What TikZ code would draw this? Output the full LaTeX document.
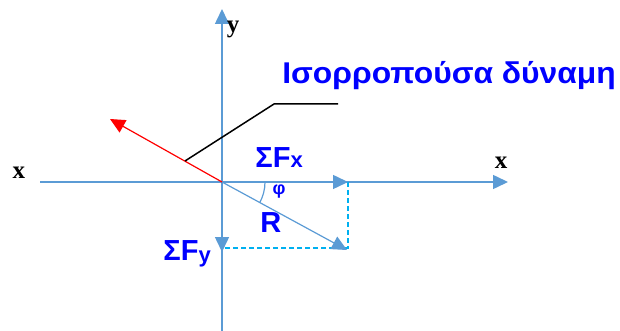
\documentclass[tikz,border=0pt]{standalone}
\usepackage{fontspec}
\usepackage{graphicx}
\setmainfont{Liberation Sans}
\newfontfamily\timesfont{Liberation Serif}
\usetikzlibrary{arrows.meta}
\definecolor{axisblue}{RGB}{91, 155, 213}
\definecolor{dashcyan}{RGB}{0, 176, 240}
\definecolor{labelblue}{RGB}{0, 0, 255}

\begin{document}
\begin{tikzpicture}[x=0.5pt, y=-0.5pt,
    axis/.style={line width=0.75pt, axisblue, -{Triangle[length=7.5pt, width=7pt]}},
    comp/.style={line width=0.75pt, axisblue, -{Triangle[length=7.5pt, width=7pt]}},
    proj/.style={line width=0.6pt, dashcyan, dashed, dash pattern=on 2.5pt off 1.5pt},
    forcelabel/.style={font=\bfseries\fontsize{14.5}{17}\selectfont, text=labelblue, inner sep=0pt},
    axislabel/.style={font=\timesfont\bfseries\fontsize{12.5}{14}\selectfont, inner sep=0pt}]
    \useasboundingbox (0,0) rectangle (620,331);
    % points
    \coordinate (o) at (222,182);
    \coordinate (xl) at (40,182);
    \coordinate (xr) at (508,182);
    \coordinate (yb) at (222,331);
    \coordinate (yt) at (222,9);
    \coordinate (fx) at (348,182);
    \coordinate (fy) at (222,252);
    \coordinate (r) at (347,250);
    \coordinate (rc) at (348,248);
    \coordinate (eq) at (110,119);
    \coordinate (lead1) at (185,161);
    \coordinate (lead2) at (274,104);
    \coordinate (lead3) at (338,104);
    % axes
    \draw[axis] (xl) -- (xr);
    \draw[axis] (yb) -- (yt);
    % components and resultant
    \draw[proj] (fx) -- (rc) -- (222,248);
    \draw[comp] (o) -- (fx);
    \draw[comp] (o) -- (fy);
    \draw[comp, line width=0.6pt] (o) -- (r);
    \draw[axisblue, line width=0.6pt] (o) ++(43,0) arc[start angle=0, end angle=29, radius=43];
    % equilibrant
    \draw[red, line width=0.6pt, -{Triangle[length=7.5pt, width=7pt]}] (o) -- (eq);
    \draw[black, line width=0.75pt] (lead1) -- (lead2) -- (lead3);
    % labels
    \node[axislabel] (ylab) at (233,29) {y};
    \node[axislabel] (xllab) at (19,173) {x};
    \node[axislabel] (xrlab) at (501,163) {x};
    \node[forcelabel, anchor=base west] (fxlab) at (255,168) {ΣF{\fontsize{11}{12}\selectfont x}};
    \node[forcelabel, anchor=base west] (fylab) at (163,260) {ΣF\raisebox{-1pt}{\fontsize{11}{12}\selectfont y}};
    \node[forcelabel, anchor=base west] (rlab) at (260,233) {R};
    \node[forcelabel, font=\bfseries\fontsize{9}{10}\selectfont] (philab) at (279,192) {φ};
    \node[forcelabel, anchor=base west, font=\bfseries\fontsize{15}{17}\selectfont] (title) at (282,84) {\scalebox{1.06}[1]{Ισορροπούσα δύναμη}};
\end{tikzpicture}
\end{document}
